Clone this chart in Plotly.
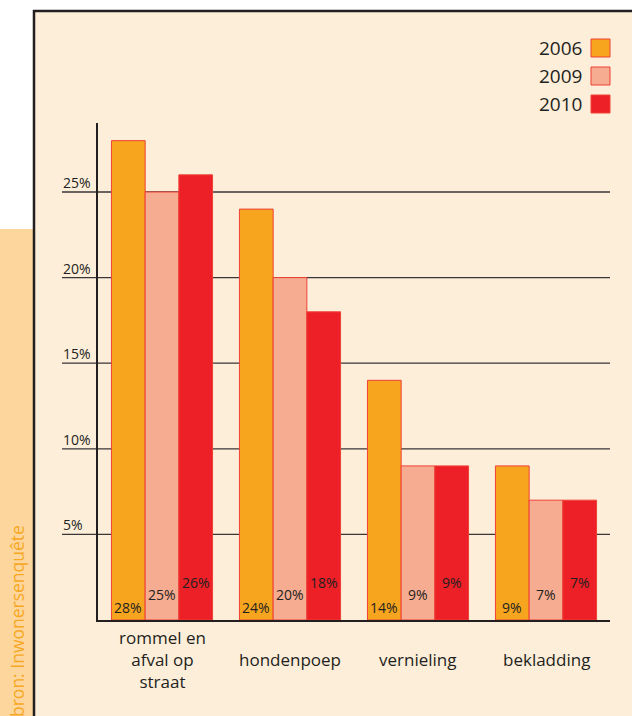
import plotly.graph_objects as go

# ---- data ----
categories = ["rommel en afval op straat", "hondenpoep", "vernieling", "bekladding"]
category_labels = ["rommel en<br>afval op<br>straat", "hondenpoep", "vernieling", "bekladding"]
years = ["2006", "2009", "2010"]
values_2006 = [28, 24, 14, 9]
values_2009 = [25, 20, 9, 7]
values_2010 = [26, 18, 9, 7]
y_ticks = [5, 10, 15, 20, 25]
tick_labels = ["5%", "10%", "15%", "20%", "25%"]
source_text = "bron: Inwonersenquête"

# ---- styling ----
colors = ["#F7A51E", "#F6AC91", "#ED2027"]
outline = "#EF4136"
cream = "#FDEEDA"
dark = "#231F20"
FONT = "Open Sans"

W, H = 632, 716
L, R, T, B = 98, 22, 123, 96
PW, PH = W - L - R, H - T - B


def px(x):
    return (x - L) / PW


def py(y):
    return (H - B - y) / PH


series = [values_2006, values_2009, values_2010]
fig = go.Figure()
for yr, vals, c in zip(years, series, colors):
    fig.add_trace(go.Bar(
        x=categories, y=vals, name=yr, showlegend=False,
        marker=dict(color=c, line=dict(color=outline, width=1)),
        hoverinfo="skip",
    ))

bargap = 0.21
bar_px = PW / len(categories) * (1 - bargap) / len(years)

annotations = []
shapes = []

# value labels inside bars (staggered)
yshifts = [13, 26, 38]
for i, vals in enumerate(series):
    for cat, v in zip(categories, vals):
        annotations.append(dict(
            x=cat, y=0, xref="x", yref="y", text=f"{v}%", showarrow=False,
            xshift=(i - 1) * bar_px, yshift=yshifts[i], yanchor="middle",
            font=dict(size=14, color=dark, family=FONT)))

# category labels
for cat, lab in zip(categories, category_labels):
    annotations.append(dict(
        x=cat, y=py(659), xref="x", yref="paper", text=lab, showarrow=False,
        yanchor="middle", xanchor="center",
        font=dict(size=17, color=dark, family=FONT)))

# gridlines + tick labels
for t, lab in zip(y_ticks, tick_labels):
    shapes.append(dict(type="line", xref="paper", yref="y", x0=px(62), x1=1,
                       y0=t, y1=t, line=dict(color="#3a3536", width=1.3), layer="below"))
    annotations.append(dict(
        x=px(61), y=t, xref="paper", yref="y", text=lab, showarrow=False,
        xanchor="left", yanchor="bottom", yshift=-2,
        font=dict(size=14, color=dark, family=FONT)))

# background pieces
shapes.append(dict(type="rect", xref="paper", yref="paper", x0=px(0), x1=px(W),
                   y0=py(10), y1=py(0), fillcolor="white", line=dict(width=0), layer="below"))
shapes.append(dict(type="rect", xref="paper", yref="paper", x0=px(0), x1=px(34),
                   y0=py(229), y1=py(0), fillcolor="white", line=dict(width=0), layer="below"))
shapes.append(dict(type="rect", xref="paper", yref="paper", x0=px(0), x1=px(34),
                   y0=py(H), y1=py(229), fillcolor="#FDD69E", line=dict(width=0), layer="below"))
shapes.append(dict(type="line", xref="paper", yref="paper", x0=px(34), x1=px(34),
                   y0=py(H), y1=py(10), line=dict(color=dark, width=2.5), layer="below"))
shapes.append(dict(type="line", xref="paper", yref="paper", x0=px(33), x1=px(W),
                   y0=py(11), y1=py(11), line=dict(color=dark, width=2.5), layer="below"))

# source text
annotations.append(dict(
    x=px(17), y=py(523), xref="paper", yref="paper", text=source_text, showarrow=False,
    textangle=-90, xanchor="center", yanchor="top",
    font=dict(size=17.5, color="#F7A823", family=FONT)))

# legend
legend_y = [48, 76, 104]
for yr, c, ly in zip(years, colors, legend_y):
    shapes.append(dict(type="rect", xref="paper", yref="paper",
                       x0=px(591), x1=px(610), y0=py(ly + 9), y1=py(ly - 9),
                       fillcolor=c, line=dict(color=outline, width=1)))
    annotations.append(dict(
        x=px(584), y=py(ly), xref="paper", yref="paper", text=yr, showarrow=False,
        xanchor="right", yanchor="middle",
        font=dict(size=19, color=dark, family=FONT)))

fig.update_layout(
    width=W, height=H, autosize=False,
    margin=dict(l=L, r=R, t=T, b=B, pad=0),
    paper_bgcolor=cream, plot_bgcolor="rgba(0,0,0,0)",
    barmode="group", bargap=bargap, bargroupgap=0,
    xaxis=dict(showline=True, linecolor=dark, linewidth=2, showticklabels=False,
               ticks="", showgrid=False, zeroline=False, fixedrange=True),
    yaxis=dict(range=[0, 29.03], showline=True, linecolor=dark, linewidth=2,
               showticklabels=False, ticks="", showgrid=False, zeroline=False, fixedrange=True),
    annotations=annotations, shapes=shapes,
    font=dict(family=FONT, color=dark),
    hovermode=False,
)

fig.write_html("out.html", config={"displayModeBar": False},
               post_script="document.body.style.margin='0px';")
